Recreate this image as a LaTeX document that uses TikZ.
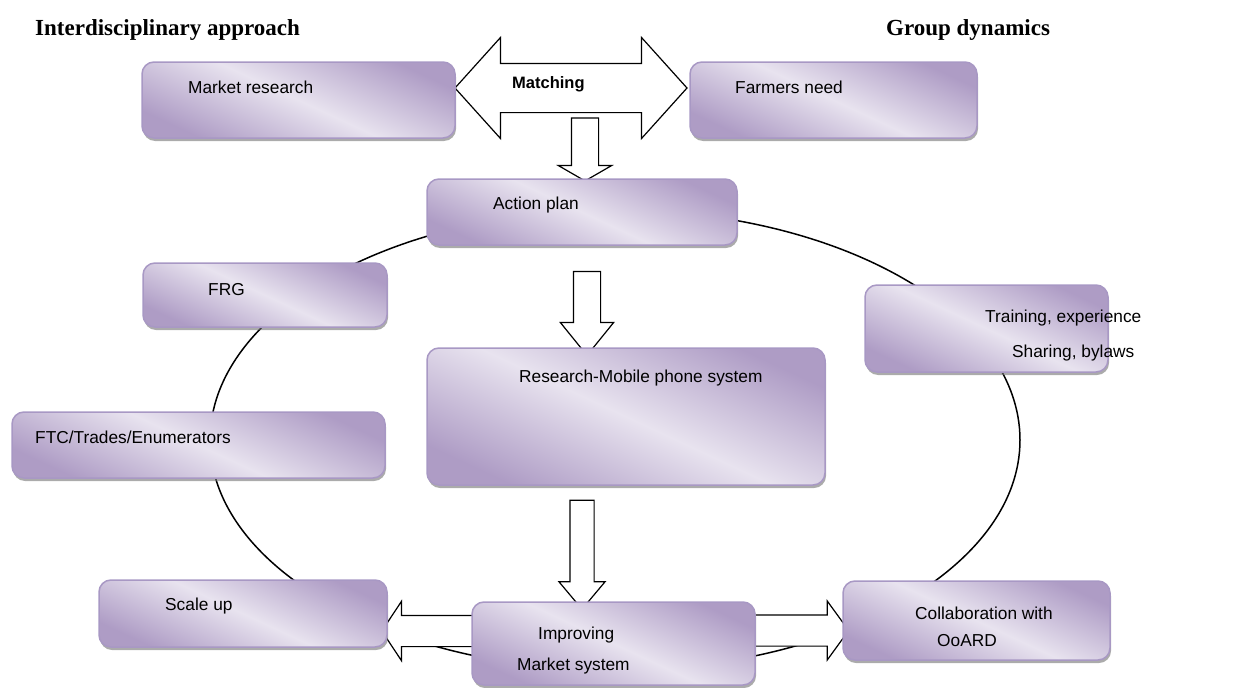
\documentclass[tikz,border=0pt]{standalone}
\usepackage{fontspec}
\setmainfont{Liberation Serif}
\setsansfont{Liberation Sans}
\usetikzlibrary{shapes.arrows,shadows}

\definecolor{boxdark}{HTML}{AE9CC5}
\definecolor{boxlight}{HTML}{E8E3EF}
\definecolor{boxline}{HTML}{A898C4}

\begin{document}
\begin{tikzpicture}[x=1pt,y=-1pt,
  stage/.style={draw=boxline, line width=1.5pt, rounded corners=12pt,
    top color=boxdark, bottom color=boxdark, middle color=boxlight,
    shading angle=-25, inner sep=0pt,
    drop shadow={shadow xshift=1pt, shadow yshift=-3pt, fill=black!55, opacity=.6}},
  lbl/.style={anchor=west, inner sep=0pt, font=\sffamily\fontsize{17.3}{20}\selectfont},
  heading/.style={anchor=west, inner sep=0pt, font=\bfseries\fontsize{23}{26}\selectfont},
  blockarrow/.style={draw, fill=white, line width=1.2pt, single arrow},
  dblarrow/.style={draw, fill=white, line width=1.2pt, double arrow}
]
\useasboundingbox (0,0) rectangle (1243,688);

% titles
\node[heading] (ttl1) at (35,30) {Interdisciplinary approach};
\node[heading] (ttl2) at (886,30) {Group dynamics};

% the cycle behind the boxes
\draw[line width=1.5pt] (615,440) ellipse [x radius=405, y radius=230];

% block arrows
\node[dblarrow, inner sep=24pt, minimum height=232pt, minimum width=100pt,
  double arrow head extend=26pt, double arrow tip angle=96] (match) at (571,88) {};
\node[lbl, font=\sffamily\bfseries\fontsize{16.5}{18}\selectfont] (match-t) at (512,84) {Matching};
\node[blockarrow, shape border rotate=270, inner sep=13pt, minimum height=63pt,
  minimum width=52pt, single arrow head extend=13pt, single arrow tip angle=120] (down1) at (585,145.5) {};
\node[blockarrow, shape border rotate=270, inner sep=13pt, minimum height=84pt,
  minimum width=52pt, single arrow head extend=13pt, single arrow tip angle=78] (down2) at (587,305) {};
\node[blockarrow, shape border rotate=270, inner sep=11.5pt, minimum height=109pt,
  minimum width=45pt, single arrow head extend=11pt, single arrow tip angle=80] (down3) at (582,547.5) {};
\node[blockarrow, shape border rotate=180, inner sep=15pt, minimum height=100pt,
  minimum width=58pt, single arrow head extend=14pt, single arrow tip angle=113] (toscale) at (437,631) {};
\node[blockarrow, inner sep=15pt, minimum height=103pt,
  minimum width=58pt, single arrow head extend=14pt, single arrow tip angle=108] (tocoll) at (791.5,630.5) {};

% boxes
\node[stage, minimum width=313pt, minimum height=76pt] (mkt) at (298.5,100) {};
\node[stage, minimum width=287pt, minimum height=76pt] (farm) at (833.5,100) {};
\node[stage, minimum width=310pt, minimum height=66pt] (act) at (582,212) {};
\node[stage, minimum width=244pt, minimum height=64pt] (frg) at (265,295) {};
\node[stage, minimum width=243pt, minimum height=87pt] (train) at (986.5,328.5) {};
\node[stage, minimum width=398pt, minimum height=137pt] (res) at (626,416.5) {};
\node[stage, minimum width=373pt, minimum height=66pt] (ftc) at (198.5,445) {};
\node[stage, minimum width=288pt, minimum height=67pt] (scale) at (243,613.5) {};
\node[stage, minimum width=283pt, minimum height=83pt] (imp) at (613.5,643.5) {};
\node[stage, minimum width=267pt, minimum height=79pt] (coll) at (976.5,620.5) {};

% box texts
\node[lbl] (mkt-t) at (188,87) {Market research};
\node[lbl] (farm-t) at (735,87) {Farmers need};
\node[lbl] (act-t) at (493,205) {Action plan};
\node[lbl] (frg-t) at (208,290) {FRG};
\node[lbl] (train-t) at (985,318) {Training, experience};
\node[lbl] (train-u) at (1012,353) {Sharing, bylaws};
\node[lbl] (res-t) at (519,378) {Research-Mobile phone system};
\node[lbl] (ftc-t) at (35,437) {FTC/Trades/Enumerators};
\node[lbl] (scale-t) at (165,606) {Scale up};
\node[lbl] (imp-t) at (538,635) {Improving};
\node[lbl] (imp-u) at (517,666) {Market system};
\node[lbl] (coll-t) at (915,613) {Collaboration with};
\node[lbl] (coll-u) at (937,641) {OoARD};
\end{tikzpicture}
\end{document}
